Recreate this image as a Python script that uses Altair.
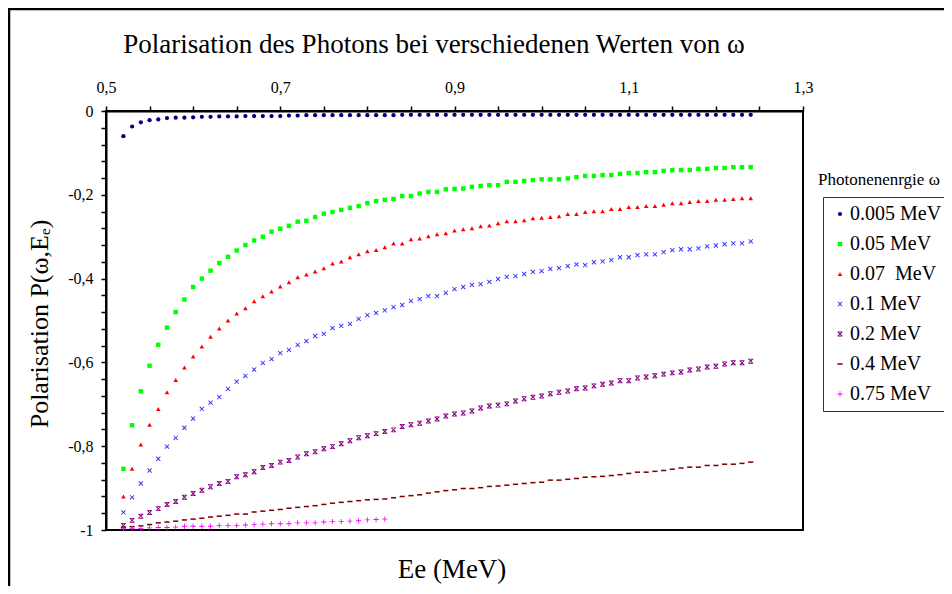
import altair as alt
import pandas as pd

# ---------------- data ----------------
energies = [0.52, 0.53, 0.54, 0.55, 0.56, 0.57, 0.58, 0.59, 0.60, 0.61,
            0.62, 0.63, 0.64, 0.65, 0.66, 0.67, 0.68, 0.69, 0.70, 0.71,
            0.72, 0.73, 0.74, 0.75, 0.76, 0.77, 0.78, 0.79, 0.80, 0.81,
            0.82, 0.83, 0.84, 0.85, 0.86, 0.87, 0.88, 0.89, 0.90, 0.91,
            0.92, 0.93, 0.94, 0.95, 0.96, 0.97, 0.98, 0.99, 1.00, 1.01,
            1.02, 1.03, 1.04, 1.05, 1.06, 1.07, 1.08, 1.09, 1.10, 1.11,
            1.12, 1.13, 1.14, 1.15, 1.16, 1.17, 1.18, 1.19, 1.20, 1.21,
            1.22, 1.23, 1.24]

p_0005 = [-0.060, -0.037, -0.027, -0.022, -0.020, -0.017, -0.016, -0.016, -0.015, -0.014,
          -0.014, -0.013, -0.013, -0.013, -0.012, -0.012, -0.012, -0.012, -0.012, -0.011,
          -0.011, -0.010, -0.010, -0.010, -0.010, -0.010, -0.010, -0.010, -0.010, -0.010,
          -0.010, -0.010, -0.009, -0.009, -0.009, -0.009, -0.009, -0.009, -0.009, -0.009,
          -0.009, -0.009, -0.009, -0.009, -0.009, -0.009, -0.009, -0.009, -0.009, -0.009,
          -0.009, -0.009, -0.009, -0.009, -0.009, -0.009, -0.009, -0.009, -0.009, -0.009,
          -0.009, -0.009, -0.009, -0.009, -0.009, -0.009, -0.009, -0.009, -0.009, -0.009,
          -0.009, -0.009, -0.009]

p_005 = [-0.854, -0.750, -0.669, -0.608, -0.558, -0.517, -0.480, -0.450, -0.420, -0.400,
         -0.381, -0.363, -0.348, -0.333, -0.320, -0.309, -0.300, -0.288, -0.281, -0.274,
         -0.264, -0.262, -0.253, -0.245, -0.241, -0.236, -0.231, -0.227, -0.220, -0.215,
         -0.212, -0.210, -0.203, -0.203, -0.197, -0.193, -0.193, -0.187, -0.186, -0.185,
         -0.181, -0.179, -0.177, -0.177, -0.169, -0.169, -0.167, -0.165, -0.163, -0.163,
         -0.163, -0.161, -0.158, -0.155, -0.155, -0.153, -0.153, -0.150, -0.148, -0.148,
         -0.146, -0.146, -0.143, -0.141, -0.141, -0.141, -0.138, -0.138, -0.136, -0.136,
         -0.134, -0.134, -0.134]

p_007 = [-0.920, -0.854, -0.796, -0.749, -0.711, -0.671, -0.642, -0.612, -0.586, -0.562,
         -0.539, -0.519, -0.500, -0.483, -0.471, -0.454, -0.442, -0.431, -0.419, -0.409,
         -0.397, -0.390, -0.383, -0.375, -0.364, -0.359, -0.349, -0.342, -0.335, -0.332,
         -0.325, -0.316, -0.316, -0.306, -0.304, -0.299, -0.294, -0.292, -0.285, -0.282,
         -0.280, -0.275, -0.273, -0.268, -0.263, -0.263, -0.261, -0.256, -0.255, -0.253,
         -0.251, -0.246, -0.246, -0.241, -0.239, -0.239, -0.234, -0.234, -0.229, -0.229,
         -0.227, -0.227, -0.224, -0.220, -0.220, -0.217, -0.215, -0.215, -0.212, -0.212,
         -0.210, -0.208, -0.208]

p_01 = [-0.958, -0.922, -0.889, -0.858, -0.830, -0.801, -0.780, -0.756, -0.734, -0.711,
        -0.696, -0.683, -0.663, -0.646, -0.632, -0.617, -0.601, -0.592, -0.578, -0.570,
        -0.558, -0.549, -0.537, -0.532, -0.518, -0.513, -0.508, -0.496, -0.487, -0.482,
        -0.476, -0.468, -0.463, -0.453, -0.449, -0.442, -0.442, -0.434, -0.425, -0.420,
        -0.415, -0.413, -0.408, -0.401, -0.396, -0.394, -0.389, -0.384, -0.382, -0.377,
        -0.375, -0.370, -0.366, -0.368, -0.361, -0.359, -0.356, -0.349, -0.349, -0.344,
        -0.342, -0.342, -0.337, -0.332, -0.330, -0.330, -0.328, -0.323, -0.321, -0.318,
        -0.316, -0.316, -0.311]

p_02 = [-0.989, -0.977, -0.967, -0.958, -0.949, -0.939, -0.932, -0.922, -0.913, -0.905,
        -0.897, -0.889, -0.884, -0.873, -0.868, -0.861, -0.851, -0.846, -0.838, -0.834,
        -0.826, -0.818, -0.813, -0.806, -0.801, -0.794, -0.787, -0.780, -0.775, -0.770,
        -0.765, -0.761, -0.753, -0.749, -0.745, -0.740, -0.735, -0.728, -0.723, -0.721,
        -0.716, -0.709, -0.704, -0.702, -0.699, -0.692, -0.687, -0.683, -0.680, -0.675,
        -0.671, -0.668, -0.663, -0.661, -0.656, -0.652, -0.649, -0.644, -0.644, -0.637,
        -0.635, -0.632, -0.628, -0.625, -0.623, -0.618, -0.616, -0.611, -0.609, -0.604,
        -0.601, -0.601, -0.597]

p_04 = [-0.993, -0.992, -0.990, -0.987, -0.983, -0.981, -0.979, -0.976, -0.974, -0.972,
        -0.969, -0.967, -0.965, -0.962, -0.962, -0.957, -0.955, -0.953, -0.951, -0.948,
        -0.946, -0.944, -0.942, -0.939, -0.936, -0.934, -0.932, -0.930, -0.928, -0.927,
        -0.926, -0.923, -0.920, -0.918, -0.916, -0.912, -0.909, -0.906, -0.904, -0.901,
        -0.901, -0.899, -0.896, -0.895, -0.893, -0.891, -0.889, -0.887, -0.886, -0.881,
        -0.881, -0.879, -0.877, -0.874, -0.873, -0.872, -0.870, -0.868, -0.865, -0.862,
        -0.862, -0.860, -0.858, -0.855, -0.852, -0.850, -0.850, -0.846, -0.846, -0.843,
        -0.843, -0.841, -0.838]

p_075 = [-0.997, -0.996, -0.996, -0.995, -0.994, -0.994, -0.993, -0.991, -0.991, -0.991,
         -0.991, -0.989, -0.989, -0.989, -0.988, -0.987, -0.986, -0.985, -0.985, -0.985,
         -0.983, -0.983, -0.983, -0.981, -0.980, -0.980, -0.979, -0.978, -0.976, -0.975,
         -0.974]

series_names = ["0.005 MeV", "0.05 MeV", "0.07\u00a0 MeV", "0.1 MeV",
                "0.2 MeV", "0.4 MeV", "0.75 MeV"]
series_values = [p_0005, p_005, p_007, p_01, p_02, p_04, p_075]

x_ticks = [0.5, 0.55, 0.6, 0.65, 0.7, 0.75, 0.8, 0.85, 0.9, 0.95,
           1.0, 1.05, 1.1, 1.15, 1.2, 1.25, 1.3]
x_labelled = [0.5, 0.7, 0.9, 1.1, 1.3]
y_ticks = [0, -0.04, -0.08, -0.12, -0.16, -0.2, -0.24, -0.28, -0.32, -0.36,
           -0.4, -0.44, -0.48, -0.52, -0.56, -0.6, -0.64, -0.68, -0.72, -0.76,
           -0.8, -0.84, -0.88, -0.92, -0.96, -1]
y_labelled = [0, -0.2, -0.4, -0.6, -0.8, -1]

chart_title = "Polarisation des Photons bei verschiedenen Werten von \u03c9"
x_title = "Ee (MeV)"
y_title = "Polarisation P(\u03c9,E\u2091)"
legend_title = "Photonenenrgie \u03c9"

# ---------------- styles ----------------
colors = ["#000080", "#00FF00", "#FF0000", "#3333FF", "#800080", "#800000", "#FF00FF"]
# marker outlines as filled symbol paths in the unit square
X_PATH = ("M-1,-0.72L-0.72,-1L0,-0.28L0.72,-1L1,-0.72L0.28,0L1,0.72L0.72,1"
          "L0,0.28L-0.72,1L-1,0.72L-0.28,0Z")
HOURGLASS_PATH = (X_PATH + "M-1,-1L1,-1L1,-0.7L-1,-0.7Z"
                  "M-1,0.7L1,0.7L1,1L-1,1Z")
DASH_PATH = "M-1,-0.3L1,-0.3L1,0.3L-1,0.3Z"
PLUS_PATH = ("M-1,-0.16L-0.16,-0.16L-0.16,-1L0.16,-1L0.16,-0.16L1,-0.16"
             "L1,0.16L0.16,0.16L0.16,1L-0.16,1L-0.16,0.16L-1,0.16Z")
shapes = ["circle", "square", "triangle-up", X_PATH, HOURGLASS_PATH, DASH_PATH, PLUS_PATH]
sizes = [18, 28, 52, 44, 40, 56, 56]

FONT = "Liberation Serif"

rows = []
for name, vals in zip(series_names, series_values):
    for e, p in zip(energies, vals):
        rows.append({"Ee": e, "P": p, "series": name})
df = pd.DataFrame(rows)


def lab_expr(vals):
    arr = "[" + ",".join(str(v) for v in vals) + "]"
    return ("indexof(" + arr + ", datum.value) >= 0 ? "
            "(datum.value < 0 ? '-' : '') + replace(format(abs(datum.value), '~g'), '.', ',') : ''")


legend = alt.Legend(
    orient="none", legendX=717, legendY=86, title=None,
    strokeColor="#333333", fillColor="white", padding=7,
    labelFont=FONT, labelFontSize=20, labelColor="black",
    rowPadding=10, labelOffset=0,
)

points = alt.Chart(df).mark_point(filled=True, opacity=1, strokeWidth=0).encode(
    x=alt.X("Ee:Q",
            scale=alt.Scale(domain=[0.5, 1.3], nice=False, zero=False),
            axis=alt.Axis(orient="top", values=x_ticks, labelExpr=lab_expr(x_labelled),
                          title=None, grid=False, tickSize=5, tickWidth=1.5,
                          tickColor="black", domainColor="black", domainWidth=2,
                          labelFont=FONT, labelFontSize=16, labelColor="black",
                          labelPadding=11, labelFlush=False, labelOverlap=False)),
    y=alt.Y("P:Q",
            scale=alt.Scale(domain=[-1, 0], nice=False, zero=False),
            axis=alt.Axis(values=y_ticks, labelExpr=lab_expr(y_labelled),
                          title=None, grid=False, tickSize=5, tickWidth=1.5,
                          tickColor="black", domainColor="black", domainWidth=2,
                          labelFont=FONT, labelFontSize=16, labelColor="black",
                          labelPadding=8, labelFlush=False, labelOverlap=False)),
    fill=alt.Fill("series:N", scale=alt.Scale(domain=series_names, range=colors), legend=legend),
    shape=alt.Shape("series:N", scale=alt.Scale(domain=series_names, range=shapes), legend=legend),
    size=alt.Size("series:N", scale=alt.Scale(domain=series_names, range=sizes), legend=legend),
)

one = pd.DataFrame({"k": [0]})
left_line = alt.Chart(one).mark_rule(color="black", strokeWidth=2.5).encode(
    x=alt.value(-97), y=alt.value(-102), y2=alt.value(480))
top_line = alt.Chart(one).mark_rule(color="black", strokeWidth=2.5).encode(
    x=alt.value(-98), x2=alt.value(860), y=alt.value(-102))

title_layer = alt.Chart(pd.DataFrame({"t": [chart_title]})).mark_text(
    font=FONT, fontSize=27, align="center", baseline="middle", color="black"
).encode(x=alt.value(328), y=alt.value(-66), text="t:N")

xtitle_layer = alt.Chart(pd.DataFrame({"t": [x_title]})).mark_text(
    font=FONT, fontSize=27, align="center", baseline="middle", color="black"
).encode(x=alt.value(346), y=alt.value(459), text="t:N")

ytitle_layer = alt.Chart(pd.DataFrame({"t": [y_title]})).mark_text(
    font=FONT, fontSize=26, align="center", baseline="middle", color="black", angle=270
).encode(x=alt.value(-66), y=alt.value(213), text="t:N")

ltitle_layer = alt.Chart(pd.DataFrame({"t": [legend_title]})).mark_text(
    font=FONT, fontSize=17, align="left", baseline="middle", color="black"
).encode(x=alt.value(712), y=alt.value(69), text="t:N")

chart = alt.layer(
    left_line, top_line, points, title_layer, xtitle_layer, ytitle_layer, ltitle_layer
).properties(
    width=697, height=419,
    autosize=alt.AutoSizeParams(type="none"),
    padding={"left": 98, "top": 103, "right": 141, "bottom": 56},
).configure(
    background="white", font=FONT
).configure_view(
    stroke="black", strokeWidth=2
)

chart.save("out.html", embed_options={"renderer": "svg", "actions": False})
